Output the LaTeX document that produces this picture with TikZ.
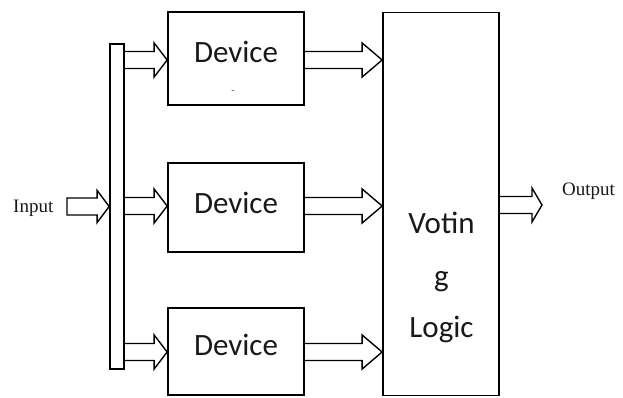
\documentclass[tikz,border=0pt]{standalone}
\usepackage{fontspec}
\setmainfont{Liberation Serif}
\newfontfamily\calfont{Carlito}
\usetikzlibrary{calc}
\tikzset{
  box/.style={draw=black, line width=1.7pt, fill=white, inner sep=0pt},
  devtext/.style={font=\calfont\fontsize{31}{31}\selectfont, text=black!90, inner sep=0pt, anchor=base},
  smalltext/.style={font=\fontsize{19}{19}\selectfont, text=black!90, inner sep=0pt, anchor=base west},
  barrow/.style={draw=black, line width=1.4pt, line join=miter},
}
% #1 start, #2 tip (same height), #3 head length
\newcommand\blockarr[3]{%
  \draw[barrow] ($(#1)+(0,-8.5)$) -- ($(#2)+(-#3,-8.5)$) -- ($(#2)+(-#3,-17)$) -- (#2)
    -- ($(#2)+(-#3,17)$) -- ($(#2)+(-#3,8.5)$) -- ($(#1)+(0,8.5)$);}
\begin{document}
\begin{tikzpicture}[x=1pt,y=-1pt]
\useasboundingbox (0,0) rectangle (623,398);
% bus bar
\node[box, minimum width=14pt, minimum height=325pt] (bar) at (117,206.5) {};
% devices
\node[box, minimum width=136pt, minimum height=93pt] (dev1) at (236,58.5) {};
\node[box, minimum width=136pt, minimum height=89pt] (dev2) at (236,207.5) {};
\node[box, minimum width=136pt, minimum height=87pt] (dev3) at (236,351.5) {};
\node[devtext] (t1) at (236,63) {Device};
\node[devtext] (t2) at (236,213) {Device};
\node[devtext] (t3) at (236,355) {Device};
\node[inner sep=0pt, font=\fontsize{10}{10}\selectfont, text=black!70] (dot) at (233,92) {-};
% voting logic
\node[box, minimum width=116pt, minimum height=383pt] (vote) at (441,204) {};
\node[devtext] (v1) at (441.5,233) {Votin};
\node[devtext] (v2) at (441.5,286) {g};
\node[devtext] (v3) at (441.5,337) {Logic};
% input / output labels
\node[smalltext] (in) at (13,212) {Input};
\node[smalltext] (out) at (562,195) {Output};
% anchor coordinates
\coordinate (inS) at (67,206.5);
\coordinate (inE) at (bar.west |- inS);
\coordinate (b1) at (bar.east |- 0,60);
\coordinate (b2) at (bar.east |- 0,206);
\coordinate (b3) at (bar.east |- 0,352);
\coordinate (d1i) at (dev1.west |- b1);
\coordinate (d2i) at (dev2.west |- b2);
\coordinate (d3i) at (dev3.west |- b3);
\coordinate (d1o) at (dev1.east |- b1);
\coordinate (d2o) at (dev2.east |- b2);
\coordinate (d3o) at (dev3.east |- b3);
\coordinate (v1i) at (vote.west |- b1);
\coordinate (v2i) at (vote.west |- b2);
\coordinate (v3i) at (vote.west |- b3);
\coordinate (vo) at (vote.east |- 0,205);
\coordinate (oE) at (542,205);
% arrows
\draw[barrow] ($(inS)+(0,-8.5)$) -- ($(inE)+(-12,-8.5)$) -- ($(inE)+(-12,-16)$) -- (inE)
  -- ($(inE)+(-12,16)$) -- ($(inE)+(-12,8.5)$) -- ($(inS)+(0,8.5)$) -- cycle;
\blockarr{b1}{d1i}{13}
\blockarr{b2}{d2i}{13}
\blockarr{b3}{d3i}{13}
\blockarr{d1o}{v1i}{20}
\blockarr{d2o}{v2i}{20}
\blockarr{d3o}{v3i}{20}
\blockarr{vo}{oE}{10}
\end{tikzpicture}
\end{document}
